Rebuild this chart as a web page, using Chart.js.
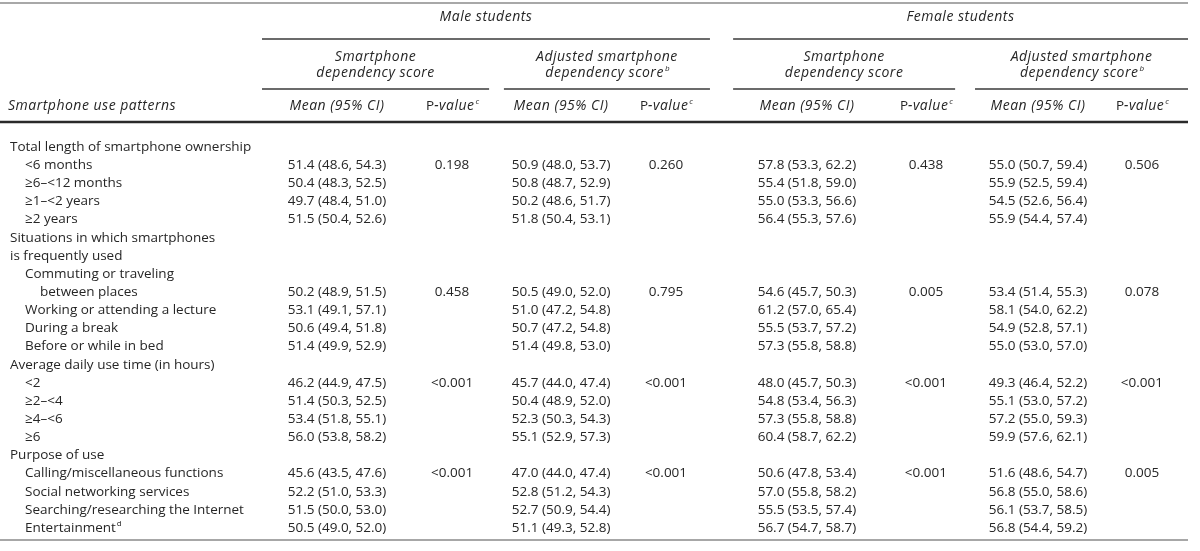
<!DOCTYPE html>
<html>
<head>
<meta charset="utf-8">
<script src="https://cdn.jsdelivr.net/npm/chart.js@4.4.1/dist/chart.umd.min.js"></script>
<style>
  html, body { margin: 0; padding: 0; background: #fff; }
  #wrap { position: relative; width: 1200px; height: 551px; }
</style>
</head>
<body>
<div id="wrap"><canvas id="tableChart"></canvas></div>
<script>
// Row labels, top to bottom, with their indent level
const rowLabels = [
    'Total length of smartphone ownership', '<6 months', '≥6–<12 months', '≥1–<2 years', '≥2 years',
    'Situations in which smartphones', 'is frequently used', 'Commuting or traveling', 'between places',
    'Working or attending a lecture', 'During a break', 'Before or while in bed',
    'Average daily use time (in hours)', '<2', '≥2–<4', '≥4–<6', '≥6',
    'Purpose of use', 'Calling/miscellaneous functions', 'Social networking services',
    'Searching/researching the Internet', 'Entertainment'
];
const rowLevels = [0, 1, 1, 1, 1, 0, 0, 1, 2, 1, 1, 1, 0, 1, 1, 1, 1, 0, 1, 1, 1, 1];
const rowSup = { 21: 'd' };

// Male students - smartphone dependency score
const maleMean = [null, 51.4, 50.4, 49.7, 51.5, null, null, null, 50.2, 53.1, 50.6, 51.4, null, 46.2, 51.4, 53.4, 56.0, null, 45.6, 52.2, 51.5, 50.5];
const maleLow  = [null, 48.6, 48.3, 48.4, 50.4, null, null, null, 48.9, 49.1, 49.4, 49.9, null, 44.9, 50.3, 51.8, 53.8, null, 43.5, 51.0, 50.0, 49.0];
const maleHigh = [null, 54.3, 52.5, 51.0, 52.6, null, null, null, 51.5, 57.1, 51.8, 52.9, null, 47.5, 52.5, 55.1, 58.2, null, 47.6, 53.3, 53.0, 52.0];
const maleP = [null, '0.198', null, null, null, null, null, null, '0.458', null, null, null, null, '<0.001', null, null, null, null, '<0.001', null, null, null];

// Male students - adjusted score
const maleAdjMean = [null, 50.9, 50.8, 50.2, 51.8, null, null, null, 50.5, 51.0, 50.7, 51.4, null, 45.7, 50.4, 52.3, 55.1, null, 47.0, 52.8, 52.7, 51.1];
const maleAdjLow  = [null, 48.0, 48.7, 48.6, 50.4, null, null, null, 49.0, 47.2, 47.2, 49.8, null, 44.0, 48.9, 50.3, 52.9, null, 44.0, 51.2, 50.9, 49.3];
const maleAdjHigh = [null, 53.7, 52.9, 51.7, 53.1, null, null, null, 52.0, 54.8, 54.8, 53.0, null, 47.4, 52.0, 54.3, 57.3, null, 47.4, 54.3, 54.4, 52.8];
const maleAdjP = [null, '0.260', null, null, null, null, null, null, '0.795', null, null, null, null, '<0.001', null, null, null, null, '<0.001', null, null, null];

// Female students - smartphone dependency score
const femaleMean = [null, 57.8, 55.4, 55.0, 56.4, null, null, null, 54.6, 61.2, 55.5, 57.3, null, 48.0, 54.8, 57.3, 60.4, null, 50.6, 57.0, 55.5, 56.7];
const femaleLow  = [null, 53.3, 51.8, 53.3, 55.3, null, null, null, 45.7, 57.0, 53.7, 55.8, null, 45.7, 53.4, 55.8, 58.7, null, 47.8, 55.8, 53.5, 54.7];
const femaleHigh = [null, 62.2, 59.0, 56.6, 57.6, null, null, null, 50.3, 65.4, 57.2, 58.8, null, 50.3, 56.3, 58.8, 62.2, null, 53.4, 58.2, 57.4, 58.7];
const femaleP = [null, '0.438', null, null, null, null, null, null, '0.005', null, null, null, null, '<0.001', null, null, null, null, '<0.001', null, null, null];

// Female students - adjusted score
const femaleAdjMean = [null, 55.0, 55.9, 54.5, 55.9, null, null, null, 53.4, 58.1, 54.9, 55.0, null, 49.3, 55.1, 57.2, 59.9, null, 51.6, 56.8, 56.1, 56.8];
const femaleAdjLow  = [null, 50.7, 52.5, 52.6, 54.4, null, null, null, 51.4, 54.0, 52.8, 53.0, null, 46.4, 53.0, 55.0, 57.6, null, 48.6, 55.0, 53.7, 54.4];
const femaleAdjHigh = [null, 59.4, 59.4, 56.4, 57.4, null, null, null, 55.3, 62.2, 57.1, 57.0, null, 52.2, 57.2, 59.3, 62.1, null, 54.7, 58.6, 58.5, 59.2];
const femaleAdjP = [null, '0.506', null, null, null, null, null, null, '0.078', null, null, null, null, '<0.001', null, null, null, null, '0.005', null, null, null];

// layout: x axis runs 0..4, one unit per score block
const colSlots = [0.324, 0.821, 1.292, 1.745, 2.354, 2.868, 3.352, 3.801];
const blockSpans = [[0, 0.981], [1.045, 1.935], [2.035, 2.994], [3.080, 4]];
const sexSpans = [[0, 1.935], [2.035, 4]];
const FONT = '"Open Sans", "Noto Sans", sans-serif';
const INK = '#262626';
const SIZE = 13.5;

function ciText(mean, low, high) {
    return mean.map((m, i) => m == null ? null : m.toFixed(1) + ' (' + low[i].toFixed(1) + ', ' + high[i].toFixed(1) + ')');
}

const columns = [
    ciText(maleMean, maleLow, maleHigh), maleP,
    ciText(maleAdjMean, maleAdjLow, maleAdjHigh), maleAdjP,
    ciText(femaleMean, femaleLow, femaleHigh), femaleP,
    ciText(femaleAdjMean, femaleAdjLow, femaleAdjHigh), femaleAdjP
];

const datasets = columns.map((cells, c) => {
    const pts = [];
    const txt = [];
    cells.forEach((t, i) => {
        if (t != null) { pts.push({ x: colSlots[c], y: i }); txt.push(t); }
    });
    return { label: 'col' + c, data: pts, cells: txt, pointRadius: 0, showLine: false };
});

function setFont(ctx, p) {
    const size = p.sup ? 8 : (p.italic ? 14 : SIZE);
    ctx.font = (p.italic ? 'italic ' : '') + size + 'px ' + FONT;
    ctx.letterSpacing = p.italic && !p.sup ? '0.5px' : '0px';
}

// draw text made of parts: {t, italic, sup}
function drawRich(ctx, parts, x, y, align) {
    let total = 0;
    parts.forEach(p => {
        setFont(ctx, p);
        p.w = ctx.measureText(p.t).width;
        total += p.w;
    });
    let cx = align === 'center' ? x - total / 2 : (align === 'right' ? x - total : x);
    ctx.textAlign = 'left';
    ctx.textBaseline = 'middle';
    parts.forEach(p => {
        setFont(ctx, p);
        ctx.fillText(p.t, cx + (p.sup ? 1 : 0), p.sup ? y - 4 : y);
        cx += p.w;
    });
}

function hline(ctx, x1, x2, y, w, color) {
    ctx.beginPath();
    ctx.lineWidth = w;
    ctx.strokeStyle = color;
    ctx.moveTo(x1, y);
    ctx.lineTo(x2, y);
    ctx.stroke();
}

const tablePlugin = {
    id: 'tableText',
    afterDraw(chart) {
        const ctx = chart.ctx;
        const xs = chart.scales.x;
        const ys = chart.scales.y;
        const right = xs.getPixelForValue(4);
        const mid = s => (xs.getPixelForValue(s[0]) + xs.getPixelForValue(s[1])) / 2;
        ctx.save();
        ctx.fillStyle = INK;

        // rules
        hline(ctx, 0, right, 3, 2, '#a8a8a8');
        sexSpans.forEach(s => hline(ctx, xs.getPixelForValue(s[0]), xs.getPixelForValue(s[1]), 39, 1.3, '#3a3a3a'));
        blockSpans.forEach(s => hline(ctx, xs.getPixelForValue(s[0]), xs.getPixelForValue(s[1]), 89, 1.3, '#3a3a3a'));
        hline(ctx, 0, right, 122, 2.4, '#2a2a2a');
        hline(ctx, 0, right, 540, 1.5, '#8a8a8a');

        // spanning headers
        drawRich(ctx, [{ t: 'Male students', italic: true }], mid(sexSpans[0]), 17, 'center');
        drawRich(ctx, [{ t: 'Female students', italic: true }], mid(sexSpans[1]), 17, 'center');
        blockSpans.forEach((s, b) => {
            const adjusted = b % 2 === 1;
            drawRich(ctx, [{ t: adjusted ? 'Adjusted smartphone' : 'Smartphone', italic: true }], mid(s), 57, 'center');
            const l2 = [{ t: 'dependency score', italic: true }];
            if (adjusted) l2.push({ t: 'b', italic: true, sup: true });
            drawRich(ctx, l2, mid(s), 73, 'center');
        });

        // column headers
        drawRich(ctx, [{ t: 'Smartphone use patterns', italic: true }], 8, 106, 'left');
        colSlots.forEach((s, c) => {
            const px = xs.getPixelForValue(s);
            if (c % 2 === 0) {
                drawRich(ctx, [{ t: 'Mean (95% CI)', italic: true }], px, 106, 'center');
            } else {
                drawRich(ctx, [{ t: 'P' }, { t: '-value', italic: true }, { t: 'c', italic: true, sup: true }], px, 106, 'center');
            }
        });

        // row labels
        rowLabels.forEach((lab, i) => {
            const parts = [{ t: lab }];
            if (rowSup[i]) parts.push({ t: rowSup[i], sup: true });
            drawRich(ctx, parts, 10 + rowLevels[i] * 15, ys.getPixelForValue(i), 'left');
        });

        // cells, placed at the dataset points
        chart.data.datasets.forEach((ds, d) => {
            const meta = chart.getDatasetMeta(d);
            meta.data.forEach((el, j) => {
                drawRich(ctx, [{ t: ds.cells[j] }], el.x, el.y, 'center');
            });
        });
        ctx.restore();
    }
};

new Chart(document.getElementById('tableChart'), {
    type: 'scatter',
    data: { datasets: datasets },
    options: {
        responsive: true,
        maintainAspectRatio: false,
        animation: false,
        events: [],
        layout: { padding: { left: 262, right: 12, top: 147, bottom: 23 } },
        plugins: {
            legend: { display: false },
            tooltip: { enabled: false }
        },
        scales: {
            x: { type: 'linear', min: 0, max: 4, display: false },
            y: { type: 'linear', min: 0, max: 21, reverse: true, display: false }
        }
    },
    plugins: [tablePlugin]
});
</script>
</body>
</html>
